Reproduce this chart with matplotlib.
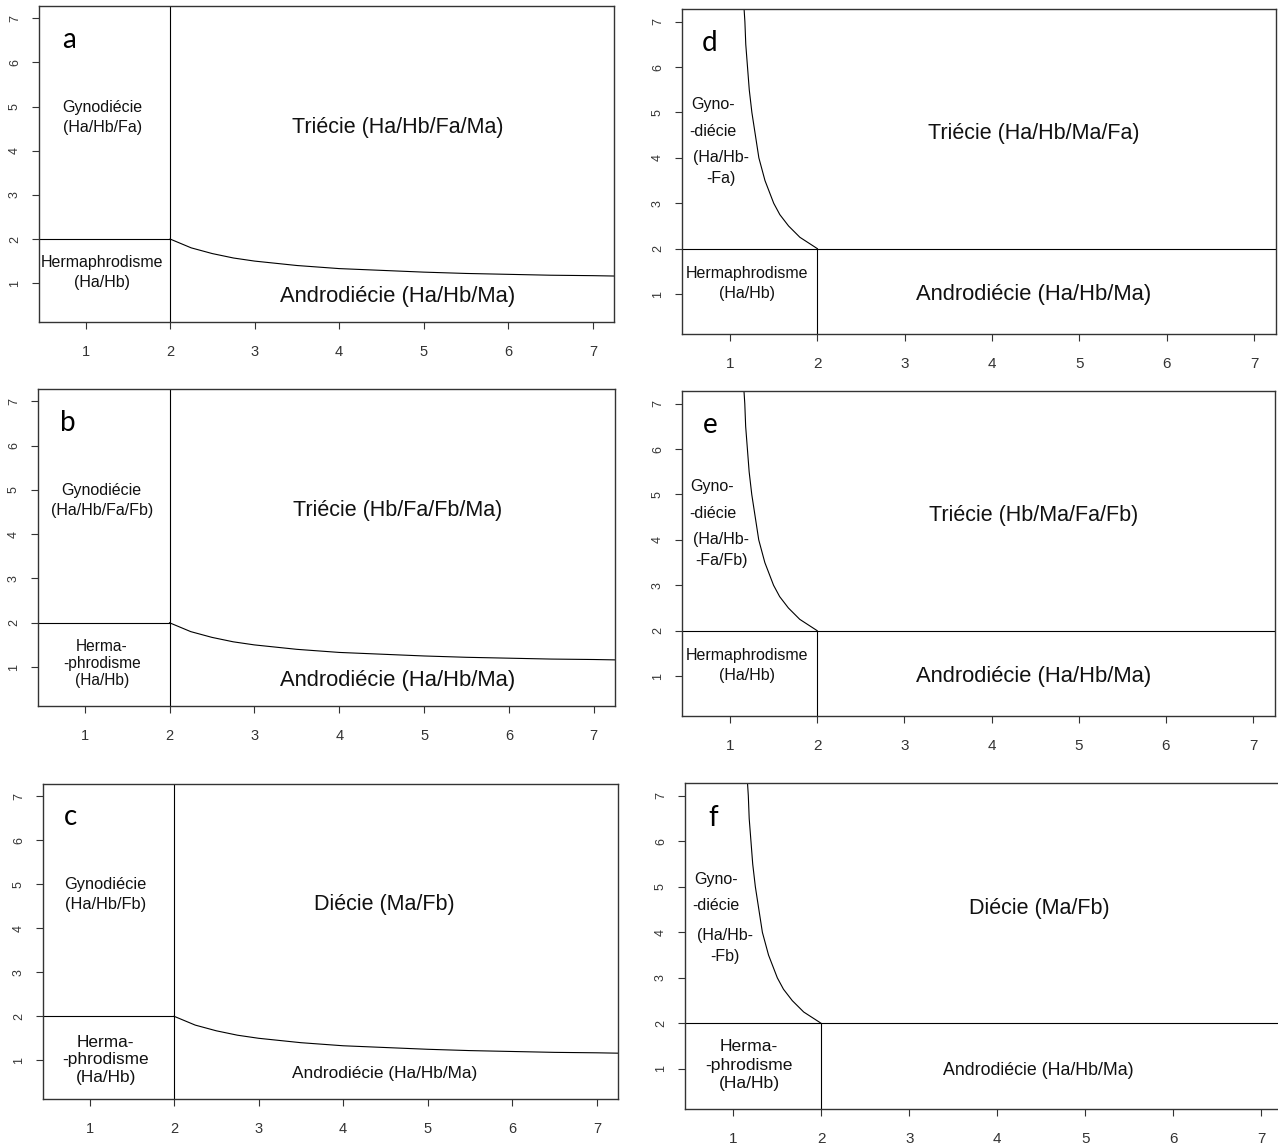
import matplotlib
matplotlib.use("Agg")
import matplotlib.pyplot as plt

plt.rcParams['font.family'] = ['Liberation Sans', 'DejaVu Sans']

# boundary between the two-morph and three-morph regions
curve_x = [2.0, 2.25, 2.5, 2.75, 3.0, 3.5, 4.0, 4.5, 5.0, 5.5, 6.0, 6.5, 7.0, 7.3]
curve_y = [2.0, 1.80, 1.67, 1.57, 1.50, 1.40, 1.33, 1.29, 1.25, 1.22, 1.20, 1.18, 1.17, 1.16]

ticks = [1, 2, 3, 4, 5, 6, 7]
xlim = (0.45, 7.25)
ylim = (0.12, 7.28)

panel_letters = ['a', 'b', 'c', 'd', 'e', 'f']
upper_labels = ['Triécie (Ha/Hb/Fa/Ma)', 'Triécie (Hb/Fa/Fb/Ma)', 'Diécie (Ma/Fb)',
                'Triécie (Ha/Hb/Ma/Fa)', 'Triécie (Hb/Ma/Fa/Fb)', 'Diécie (Ma/Fb)']
andro_label = 'Androdiécie (Ha/Hb/Ma)'

W, H = 1278, 1148
fig = plt.figure(figsize=(W / 100, H / 100), dpi=100)

# frame boxes in pixels: left, top, right, bottom
boxes = {
    'a': (39, 6, 614, 322),
    'b': (38, 389, 615, 706),
    'c': (43, 784, 618, 1099),
    'd': (682, 9, 1276, 334),
    'e': (682, 391, 1275, 716),
    'f': (685, 783, 1283, 1109),
}

TXT = '#111111'


def make_axes(key, big_ticks=False):
    l, t, r, b = boxes[key]
    ax = fig.add_axes([l / W, 1 - b / H, (r - l) / W, (b - t) / H])
    ax.set_xlim(*xlim)
    ax.set_ylim(*ylim)
    ax.set_xticks(ticks)
    ax.set_yticks(ticks)
    for s in ax.spines.values():
        s.set_color('#333333')
        s.set_linewidth(1.0)
    ax.tick_params(axis='both', direction='out', length=5, width=0.8, color='#333333',
                   labelcolor='#333333')
    ax.tick_params(axis='x', pad=11.5, labelsize=11 if big_ticks else 10.5)
    ax.tick_params(axis='y', pad=8, labelsize=9)
    for lab in ax.get_yticklabels():
        lab.set_rotation(90)
        lab.set_va('center')
    ax.text(0.80 if key in 'ab' else 0.77, 6.52, key, fontsize=20, ha='center', va='center',
            family=['Lato', 'DejaVu Sans'], color='black')
    return ax


# left column: curve y(x) to the right of x = 2
for i, key in enumerate(['a', 'b', 'c']):
    ax = make_axes(key)
    ax.axvline(2, color='black', lw=0.8)
    ax.hlines(2, xlim[0], 2, color='black', lw=0.8)
    ax.plot(curve_x, curve_y, color='black', lw=0.8)
    if key == 'c':
        ax.text(4.49, 4.53, upper_labels[i], fontsize=15.5, ha='center', va='center', color=TXT)
        ax.text(1.19, 4.76, 'Gynodiécie\n(Ha/Hb/Fb)', fontsize=11.8, ha='center', va='center',
                linespacing=1.4, color=TXT)
        ax.text(1.19, 1.01, 'Herma-\n-phrodisme\n(Ha/Hb)', fontsize=12.4, ha='center',
                va='center', linespacing=1.2, color=TXT)
        ax.text(4.49, 0.69, andro_label, fontsize=12.4, ha='center', va='center', color=TXT)
    else:
        ax.text(4.69, 4.53, upper_labels[i], fontsize=15.5, ha='center', va='center', color=TXT)
        gyno = 'Gynodiécie\n(Ha/Hb/Fa)' if key == 'a' else 'Gynodiécie\n(Ha/Hb/Fa/Fb)'
        ax.text(1.2, 4.76, gyno, fontsize=11.5, ha='center', va='center', linespacing=1.4,
                color=TXT)
        ax.text(4.69, 0.70, andro_label, fontsize=15.8, ha='center', va='center', color=TXT)
        if key == 'a':
            ax.text(1.2, 1.25, 'Hermaphrodisme\n(Ha/Hb)', fontsize=11.5, ha='center',
                    va='center', linespacing=1.4, color=TXT)
        else:
            ax.text(1.2, 1.08, 'Herma-\n-phrodisme\n(Ha/Hb)', fontsize=11.2, ha='center',
                    va='center', linespacing=1.2, color=TXT)

# right column: the same boundary mirrored, x(y) above y = 2
gyno_tail = {'d': '-Fa)', 'e': '-Fa/Fb)', 'f': '-Fb)'}
for i, key in enumerate(['d', 'e', 'f']):
    ax = make_axes(key, big_ticks=True)
    ax.axhline(2, color='black', lw=0.8)
    ax.vlines(2, ylim[0], 2, color='black', lw=0.8)
    ax.plot(curve_y, curve_x, color='black', lw=0.8)
    ax.text(4.48, 4.53, upper_labels[i + 3], fontsize=15.5, ha='center', va='center',
            color=TXT)
    ax.text(0.80, 4.88, 'Gyno-\n-diécie', fontsize=11.5, ha='center', va='center',
            linespacing=1.95, color=TXT)
    ax.text(0.90, 3.70 if key == 'f' else 3.78, '(Ha/Hb-\n' + gyno_tail[key], fontsize=11.5,
            ha='center', va='center', linespacing=1.55, color=TXT)
    if key == 'f':
        ax.text(1.18, 1.08, 'Herma-\n-phrodisme\n(Ha/Hb)', fontsize=12.6, ha='center',
                va='center', linespacing=1.3, color=TXT)
        ax.text(4.47, 0.97, andro_label, fontsize=12.8, ha='center', va='center', color=TXT)
    else:
        ax.text(1.19, 1.24, 'Hermaphrodisme\n(Ha/Hb)', fontsize=11.5, ha='center',
                va='center', linespacing=1.4, color=TXT)
        ax.text(4.48, 1.00, andro_label, fontsize=15.8, ha='center', va='center', color=TXT)

fig.savefig('out.png', dpi=100)
